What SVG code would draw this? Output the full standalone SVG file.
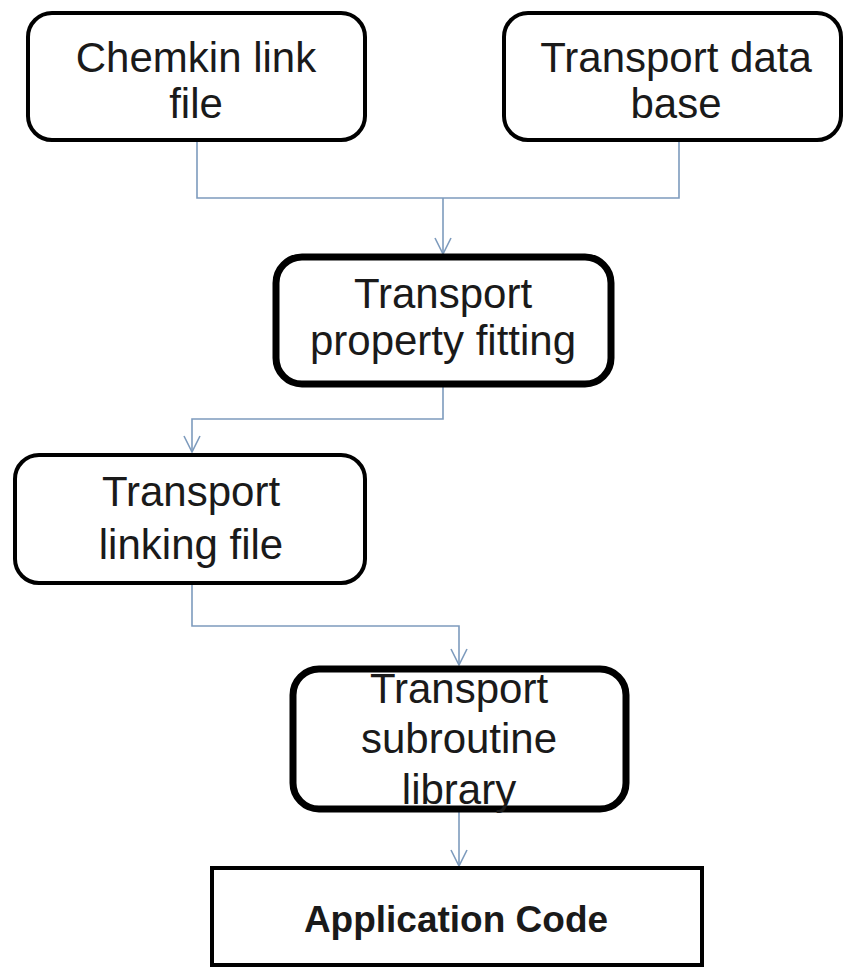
<svg xmlns="http://www.w3.org/2000/svg" width="847" height="967" viewBox="0 0 847 967">
<defs>
<style>
.box{fill:#fff;stroke:#000;stroke-width:4}
.thick{stroke-width:7}
.t{font-family:"Liberation Sans",Arial,sans-serif;font-size:42px;fill:#1a1a1a;text-anchor:middle}
.b{font-weight:bold;font-size:37px}
.c{fill:none;stroke:#7d9bbd;stroke-width:1.6}
</style>
<marker id="v" viewBox="0 0 20 20" refX="18" refY="10" markerWidth="20" markerHeight="20" markerUnits="userSpaceOnUse" orient="auto">
<path d="M2 2 L18 10 L2 18" fill="none" stroke="#7d9bbd" stroke-width="1.6"/>
</marker>
</defs>
<rect width="847" height="967" fill="#fff"/>
<g id="connectors">
<path class="c" d="M197 140 V198 H679 V140"/>
<path class="c" d="M443 198 V254" marker-end="url(#v)"/>
<path class="c" d="M443 384 V419 H192 V452" marker-end="url(#v)"/>
<path class="c" d="M192 583 V626 H459 V665" marker-end="url(#v)"/>
<path class="c" d="M459 809 V866" marker-end="url(#v)"/>
</g>
<g id="chemkin">
<rect class="box" x="28" y="13" width="337" height="127" rx="24"/>
<text class="t" x="196" y="72">Chemkin link</text>
<text class="t" x="196" y="118">file</text>
</g>
<g id="transport-db">
<rect class="box" x="504" y="13" width="337" height="127" rx="24"/>
<text class="t" x="676" y="72">Transport data</text>
<text class="t" x="676" y="118">base</text>
</g>
<g id="fitting">
<rect class="box thick" x="276" y="257" width="335" height="127" rx="26"/>
<text class="t" x="443" y="308">Transport</text>
<text class="t" x="443" y="355">property fitting</text>
</g>
<g id="linking">
<rect class="box" x="15" y="455" width="350" height="128" rx="24"/>
<text class="t" x="191" y="506">Transport</text>
<text class="t" x="191" y="559">linking file</text>
</g>
<g id="subroutine">
<rect class="box thick" x="293" y="669" width="333" height="140" rx="26"/>
<text class="t" x="459" y="703">Transport</text>
<text class="t" x="459" y="753">subroutine</text>
<text class="t" x="459" y="804">library</text>
</g>
<g id="application">
<rect class="box" x="212" y="868" width="490" height="97"/>
<text class="t b" x="456" y="932">Application Code</text>
</g>
</svg>
